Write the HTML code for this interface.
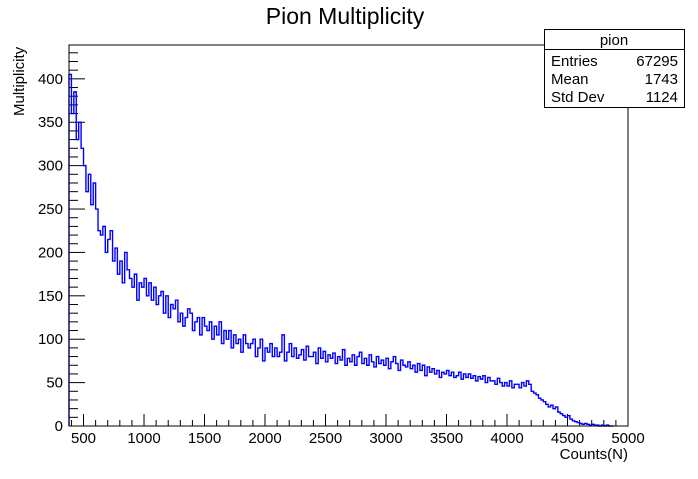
<!DOCTYPE html>
<html><head><meta charset="utf-8"><style>
body{margin:0;background:#fff;font-family:"Liberation Sans",sans-serif}
svg text{font-family:"Liberation Sans",sans-serif}
</style></head><body>
<svg width="698" height="474">
<text x="345" y="24" font-size="23" text-anchor="middle">Pion Multiplicity</text>
<text transform="translate(24,116) rotate(-90)" font-size="15">Multiplicity</text>
<text x="628" y="459" font-size="15" text-anchor="end">Counts(N)</text>
<g id="axes"></g>
<path id="hist" fill="none" stroke="#0000ff" stroke-width="1.4"></path>
<rect x="69" y="45" width="559" height="381" fill="none" stroke="#000"/>
<g>
<rect x="544.5" y="29.5" width="140" height="78" fill="#fff" stroke="#000"/>
<line x1="544.5" y1="49.5" x2="684.5" y2="49.5" stroke="#000"/>
<text x="614" y="45" font-size="15" text-anchor="middle">pion</text>
<text x="551" y="66" font-size="15">Entries</text><text x="678" y="66" font-size="15" text-anchor="end">67295</text>
<text x="551" y="84" font-size="15">Mean</text><text x="678" y="84" font-size="15" text-anchor="end">1743</text>
<text x="551" y="102" font-size="15">Std Dev</text><text x="678" y="102" font-size="15" text-anchor="end">1124</text>
</g>
</svg>
<script>
const binStart = 380;
const binWidth = 20;
const counts = [405,360,385,330,350,320,300,270,290,255,280,250,225,220,230,200,215,225,190,205,175,190,165,200,180,170,160,175,145,165,160,170,150,165,145,160,140,150,155,130,150,125,140,135,145,120,130,115,125,135,130,110,120,125,105,125,115,110,120,100,115,105,120,95,110,100,110,90,105,95,100,85,105,95,90,95,100,80,90,100,75,90,85,95,80,90,80,85,105,75,85,95,80,90,78,82,88,76,92,80,80,85,72,90,78,86,74,82,78,84,72,80,76,88,70,78,74,82,70,80,85,72,78,70,82,74,68,80,72,76,70,78,66,74,80,72,64,76,70,68,74,66,70,62,72,64,70,58,68,62,66,60,64,56,62,60,64,58,62,56,58,62,54,60,56,60,55,58,52,57,54,58,50,56,52,52,48,55,50,46,50,46,52,44,48,48,44,50,46,52,48,40,38,36,32,30,28,25,22,24,20,22,16,14,12,10,12,8,6,5,4,3,2,3,2,1,2,1,1,0,1,0,1,0,0];
const xTicks = [500,1000,1500,2000,2500,3000,3500,4000,4500,5000];
const yTicks = [0,50,100,150,200,250,300,350,400];
const X0=69,X1=628,Y0=426,Y1=45,xmin=380,xmax=5000,ymin=0,ymax=439;
const sx=v=>X0+(v-xmin)/(xmax-xmin)*(X1-X0);
const sy=v=>Y0-(v-ymin)/(ymax-ymin)*(Y0-Y1);
const NS="http://www.w3.org/2000/svg";
const ax=document.getElementById('axes');
function ln(x1,y1,x2,y2){const l=document.createElementNS(NS,'line');l.setAttribute('x1',x1);l.setAttribute('y1',y1);l.setAttribute('x2',x2);l.setAttribute('y2',y2);l.setAttribute('stroke','#000');ax.appendChild(l);return l;}
function tx(x,y,s,a){const t=document.createElementNS(NS,'text');t.setAttribute('x',x);t.setAttribute('y',y);t.setAttribute('font-size','15');t.setAttribute('text-anchor',a);t.textContent=s;ax.appendChild(t);return t;}
for(let v=400;v<=xmax;v+=100){const x=sx(v);const major=v%500===0;const l=ln(x,Y0,x,Y0-(major?12:6));

}
xTicks.forEach(v=>{const t=tx(sx(v),443,String(v),'middle');

});
for(let v=0;v<=ymax;v+=10){const y=sy(v);const major=v%50===0;const l=ln(X0,y,X0+(major?16:9),y);

}
yTicks.forEach(v=>{const t=tx(63,sy(v)+5,String(v),'end');

});
let d='M'+sx(binStart)+','+sy(0);
counts.forEach((c,i)=>{const a=sx(binStart+i*binWidth),b=sx(binStart+(i+1)*binWidth);d+=' L'+a+','+sy(c)+' L'+b+','+sy(c);});
d+=' L'+sx(binStart+counts.length*binWidth)+','+sy(0);
document.getElementById('hist').setAttribute('d',d);
</script>
</body></html>
